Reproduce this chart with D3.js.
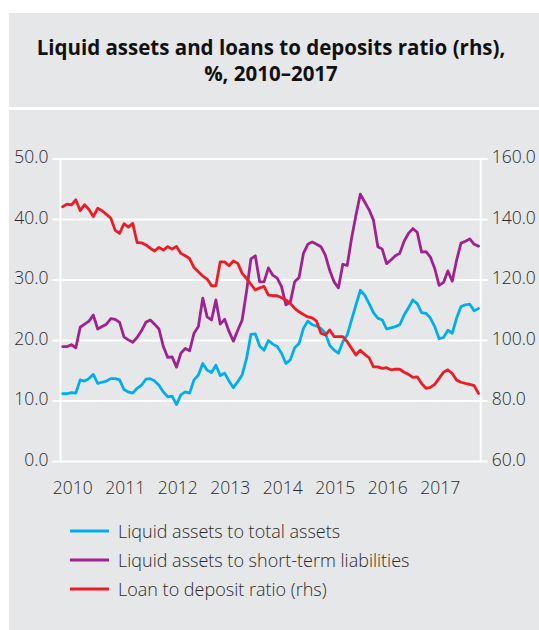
<!DOCTYPE html>
<html>
<head>
<meta charset="utf-8">
<script src="https://cdn.jsdelivr.net/npm/d3@7"></script>
<style>
  html, body { margin: 0; padding: 0; background: #ffffff; }
  svg { display: block; }
  text { font-family: "Open Sans", "Noto Sans", sans-serif; }
</style>
</head>
<body>
<svg id="chart" width="539" height="630"></svg>
<script>
// Monthly observations, January 2010 to December 2017
const years = ["2010", "2011", "2012", "2013", "2014", "2015", "2016", "2017"];
const months = years.flatMap(y => d3.range(1, 13).map(m => `${y}-${String(m).padStart(2, "0")}`));

// Liquid assets to total assets, % (left axis)
const liquidToTotal = [
  11.2, 11.2, 11.4, 11.3, 13.5, 13.3, 13.7, 14.4, 12.9, 13.1, 13.3, 13.7,
  13.7, 13.5, 11.9, 11.5, 11.3, 12.1, 12.6, 13.6, 13.7, 13.3, 12.6, 11.5,
  10.7, 10.8, 9.4, 11.0, 11.5, 11.3, 13.5, 14.3, 16.2, 15.1, 14.7, 15.9,
  14.2, 14.6, 13.3, 12.2, 13.2, 14.3, 17.0, 21.0, 21.1, 19.1, 18.4, 20.0,
  19.4, 19.0, 17.9, 16.2, 16.8, 18.8, 19.5, 22.0, 23.2, 22.6, 22.4, 22.0,
  21.2, 19.2, 18.4, 17.9, 19.8, 20.9, 23.4, 25.9, 28.3, 27.5, 26.1, 24.6,
  23.7, 23.4, 21.9, 22.1, 22.3, 22.6, 24.2, 25.4, 26.7, 26.1, 24.6, 24.5,
  23.7, 22.3, 20.3, 20.5, 21.7, 21.2, 23.7, 25.6, 25.9, 26.0, 24.9, 25.3
];

// Liquid assets to short-term liabilities, % (left axis)
const liquidToShortTerm = [
  19.0, 19.0, 19.3, 18.8, 22.2, 22.7, 23.2, 24.2, 21.9, 22.3, 22.7, 23.6,
  23.5, 23.0, 20.6, 20.1, 19.7, 20.5, 21.6, 23.0, 23.4, 22.7, 21.9, 19.0,
  17.2, 17.3, 15.6, 17.9, 18.7, 18.3, 21.2, 22.3, 27.0, 23.9, 23.4, 26.7,
  22.7, 23.5, 21.5, 19.9, 21.7, 23.4, 28.1, 33.5, 34.0, 29.7, 29.7, 32.0,
  30.8, 30.3, 28.9, 25.9, 26.3, 29.7, 30.4, 34.4, 35.9, 36.3, 35.9, 35.5,
  34.1, 31.6, 29.7, 28.7, 32.6, 32.4, 36.9, 40.7, 44.2, 42.9, 41.6, 39.9,
  35.5, 35.1, 32.7, 33.3, 34.0, 34.4, 36.4, 37.7, 38.5, 37.9, 34.6, 34.7,
  33.8, 31.9, 29.1, 29.6, 31.5, 29.8, 33.3, 36.1, 36.4, 36.8, 35.9, 35.6
];

// Loan to deposit ratio, % (right axis)
const loanToDeposit = [
  144.2, 145.1, 144.8, 146.5, 142.9, 144.9, 143.3, 141.0, 143.7, 142.9, 141.7, 140.4,
  136.4, 135.4, 138.6, 137.5, 138.7, 132.4, 132.3, 131.6, 130.5, 129.6, 130.8, 129.9,
  131.0, 130.2, 131.1, 128.8, 128.0, 127.1, 124.1, 122.7, 121.3, 120.3, 118.1, 118.1,
  126.0, 126.0, 124.7, 126.3, 125.5, 122.2, 120.5, 118.6, 116.7, 117.4, 117.9, 115.0,
  114.8, 114.8, 114.1, 113.4, 112.3, 110.6, 109.5, 108.6, 107.8, 107.5, 106.4, 102.4,
  101.8, 103.5, 101.3, 101.3, 101.3, 99.6, 97.4, 95.2, 96.8, 95.4, 94.3, 91.3,
  91.3, 90.8, 91.0, 90.3, 90.5, 90.5, 89.5, 88.8, 87.8, 88.0, 85.8, 84.2,
  84.5, 85.5, 87.5, 89.5, 90.3, 89.1, 86.9, 86.2, 85.8, 85.5, 85.1, 82.5
];

const leftTicks = [0, 10, 20, 30, 40, 50];
const rightTicks = [60, 80, 100, 120, 140, 160];

const seriesNames = [
  "Liquid assets to total assets",
  "Liquid assets to short-term liabilities",
  "Loan to deposit ratio (rhs)"
];
const seriesColors = ["#00aeef", "#a0218f", "#ed1c24"];

const svg = d3.select("#chart");
const grey = "#e6e7e8";
const labelColor = "#2b2b2b";

// Panels
svg.append("rect").attr("x", 9).attr("y", 13).attr("width", 530).attr("height", 94).attr("fill", grey);
svg.append("rect").attr("x", 9).attr("y", 110).attr("width", 530).attr("height", 520).attr("fill", grey);

// Title
const title = svg.append("text")
  .attr("x", 271).attr("y", 55)
  .attr("text-anchor", "middle")
  .attr("font-weight", 700)
  .attr("font-size", 20.5)
  .attr("fill", "#111");
title.append("tspan").attr("x", 271).attr("dy", 0).text("Liquid assets and loans to deposits ratio (rhs),");
title.append("tspan").attr("x", 271).attr("dy", 26).text("%, 2010\u20132017");

// Scales
const plotLeft = 60.5, plotRight = 480.7, plotTop = 159, plotBottom = 461.5;
const x = d3.scalePoint().domain(d3.range(months.length)).range([plotLeft, plotRight]).padding(0.5);
const yL = d3.scaleLinear().domain([0, 50]).range([plotBottom, plotTop]);
const yR = d3.scaleLinear().domain([60, 160]).range([plotBottom, plotTop]);

// Horizontal gridlines with outward ticks on both sides
const grid = svg.append("g");
grid.selectAll("line.h").data(leftTicks).join("line")
  .attr("x1", plotLeft - 8).attr("x2", plotRight + 7)
  .attr("y1", d => yL(d)).attr("y2", d => yL(d))
  .attr("stroke", "#fff").attr("stroke-width", 2);
// Vertical axis lines
[plotLeft, plotRight].forEach(px => {
  grid.append("line").attr("x1", px).attr("x2", px)
    .attr("y1", plotTop).attr("y2", plotBottom)
    .attr("stroke", "#fff").attr("stroke-width", 2);
});

// Left axis labels
const leftAxis = d3.axisLeft(yL).tickValues(leftTicks).tickFormat(d3.format(".1f")).tickSize(0).tickPadding(12);
svg.append("g").attr("transform", `translate(${plotLeft},0)`).call(leftAxis)
  .call(g => g.select(".domain").remove())
  .call(g => g.selectAll("text").attr("font-size", 17.5).attr("font-weight", 300)
    .attr("fill", labelColor).attr("dy", "0.2em")
    .style("font-family", "'Open Sans', sans-serif"));

// Right axis labels
const rightAxis = d3.axisRight(yR).tickValues(rightTicks).tickFormat(d3.format(".1f")).tickSize(0).tickPadding(11);
svg.append("g").attr("transform", `translate(${plotRight},0)`).call(rightAxis)
  .call(g => g.select(".domain").remove())
  .call(g => g.selectAll("text").attr("font-size", 17.5).attr("font-weight", 300)
    .attr("fill", labelColor).attr("dy", "0.2em")
    .style("font-family", "'Open Sans', sans-serif"));

// Year labels under the first month of each year
svg.append("g").selectAll("text").data(years).join("text")
  .attr("x", (d, i) => x(i * 12) - 10)
  .attr("y", 494)
  .attr("font-size", 17.5).attr("font-weight", 300).attr("fill", labelColor)
  .text(d => d);

// Lines
const lineL = d3.line().x((d, i) => x(i)).y(d => yL(d));
const lineR = d3.line().x((d, i) => x(i)).y(d => yR(d));
const lines = svg.append("g").attr("fill", "none").attr("stroke-width", 2.8)
  .attr("stroke-linejoin", "round").attr("stroke-linecap", "round");
lines.append("path").attr("d", lineL(liquidToTotal)).attr("stroke", seriesColors[0]);
lines.append("path").attr("d", lineL(liquidToShortTerm)).attr("stroke", seriesColors[1]);
lines.append("path").attr("d", lineR(loanToDeposit)).attr("stroke", seriesColors[2]);

// Legend
const legend = svg.append("g").selectAll("g").data(seriesNames).join("g")
  .attr("transform", (d, i) => `translate(70, ${531 + i * 29})`);
legend.append("line").attr("x1", 0).attr("x2", 39).attr("y1", 0).attr("y2", 0)
  .attr("stroke", (d, i) => seriesColors[i]).attr("stroke-width", 3);
legend.append("text").attr("x", 48).attr("y", 6.5)
  .attr("font-size", 18).attr("font-weight", 300).attr("fill", labelColor).text(d => d);
</script>
</body>
</html>
